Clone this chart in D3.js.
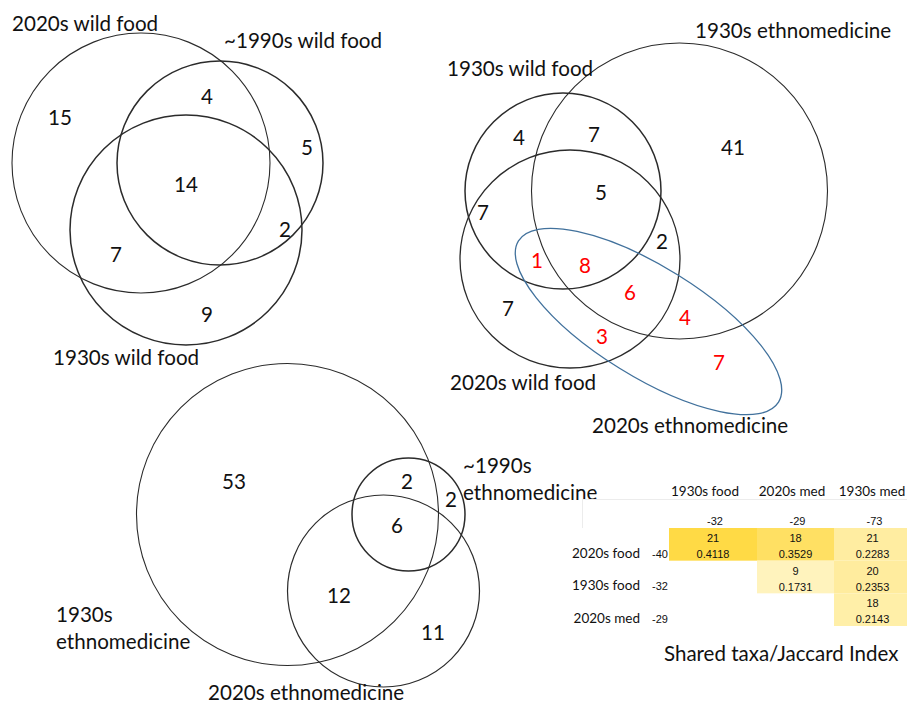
<!DOCTYPE html>
<html>
<head>
<meta charset="utf-8">
<script src="https://cdn.jsdelivr.net/npm/d3@7"></script>
<style>
  html, body { margin: 0; padding: 0; background: #fff; }
  svg { display: block; }
  text { font-family: Lato, "Noto Sans", sans-serif; fill: #111; }
  .cellnum { font-family: "Liberation Sans", Arial, sans-serif; font-size: 11px; }
</style>
</head>
<body>
<script>
// ---- data ----
const foodSets = ["2020s wild food", "~1990s wild food", "1930s wild food"];
const foodCounts = [15, 4, 5, 14, 2, 7, 9];

const comboSets = ["1930s ethnomedicine", "1930s wild food", "2020s wild food", "2020s ethnomedicine"];
const comboCounts = [4, 7, 41, 5, 7, 2, 1, 8, 6, 4, 3, 7, 7];
// true where the region lies inside the 2020s ethnomedicine set
const comboInMed2020 = [false, false, false, false, false, false, true, true, true, true, true, true, false];

const medSets = ["1930s ethnomedicine", "~1990s ethnomedicine", "2020s ethnomedicine"];
const medCounts = [53, 2, 2, 6, 12, 11];

const tableCols = ["1930s food", "2020s med", "1930s med"];
const tableRows = ["2020s food", "1930s food", "2020s med"];
const colTotals = [-32, -29, -73];
const rowTotals = [-40, -32, -29];
const sharedTaxa = [[21, 18, 21], [null, 9, 20], [null, null, 18]];
const jaccard = [[0.4118, 0.3529, 0.2283], [null, 0.1731, 0.2353], [null, null, 0.2143]];
const tableTitle = "Shared taxa/Jaccard Index";

// ---- layout ----
const W = 907, H = 704;
const svg = d3.select("body").append("svg").attr("width", W).attr("height", H);
svg.append("rect").attr("width", W).attr("height", H).attr("fill", "#fff");

const foodShapes = [
  {cx: 141, cy: 163, rx: 129, ry: 130, w: 1.1},
  {cx: 220, cy: 163, rx: 103, ry: 102, w: 1.5},
  {cx: 186, cy: 230, rx: 116, ry: 115, w: 1.5}
];
const foodNamePos = [{x: 12, y: 31}, {x: 224, y: 48}, {x: 53, y: 365}];
const foodCountPos = [[60, 118], [207, 97], [307, 148], [186, 185], [285, 230], [116, 255], [207, 315]];

const comboShapes = [
  {cx: 679.5, cy: 191, rx: 148, ry: 148, w: 1.1},
  {cx: 563, cy: 191, rx: 98, ry: 98, w: 1.5},
  {cx: 570, cy: 259, rx: 110, ry: 109, w: 1.3},
  {cx: 648.5, cy: 321.5, rx: 153, ry: 55, rot: 31.8, w: 1.3, color: "#41719c"}
];
const comboNamePos = [{x: 695, y: 38}, {x: 447, y: 76}, {x: 450, y: 390}, {x: 592, y: 433}];
const comboCountPos = [[519, 138], [594, 135], [733, 148], [601, 193], [483, 213], [662, 242],
  [537, 261], [585, 266], [630, 293], [685, 318], [602, 337], [719, 363], [508, 309]];

const medShapes = [
  {cx: 287.5, cy: 514.5, rx: 151, ry: 151, w: 1.1},
  {cx: 408.5, cy: 514.5, rx: 56.5, ry: 56.5, w: 1.5},
  {cx: 383.5, cy: 591, rx: 96, ry: 96, w: 1.2}
];
const medNamePos = [{x: 56, y: 622, wrap: true}, {x: 463, y: 473, wrap: true}, {x: 208, y: 700}];
const medCountPos = [[234, 482], [407, 482], [451, 500], [397, 526], [339, 596], [433, 633]];

function drawVenn(shapes, names, namePos, counts, countPos, countColor) {
  const g = svg.append("g");
  g.selectAll("ellipse").data(shapes).join("ellipse")
    .attr("cx", d => d.cx).attr("cy", d => d.cy)
    .attr("rx", d => d.rx).attr("ry", d => d.ry)
    .attr("transform", d => d.rot ? `rotate(${d.rot},${d.cx},${d.cy})` : null)
    .attr("fill", "none")
    .attr("stroke", d => d.color || "#2b2b2b")
    .attr("stroke-width", d => d.w);

  const labels = g.selectAll("text.set").data(names).join("text")
    .attr("class", "set")
    .attr("x", (d, i) => namePos[i].x)
    .attr("y", (d, i) => namePos[i].y)
    .style("font-size", "20.6px");
  labels.each(function(d, i) {
    const t = d3.select(this);
    if (namePos[i].wrap) {
      const k = d.indexOf(" ");
      t.append("tspan").text(d.slice(0, k));
      t.append("tspan").attr("x", namePos[i].x).attr("dy", 27).text(d.slice(k + 1));
    } else {
      t.text(d);
    }
  });

  g.selectAll("text.count").data(counts).join("text")
    .attr("class", "count")
    .attr("x", (d, i) => countPos[i][0])
    .attr("y", (d, i) => countPos[i][1])
    .attr("dy", "0.36em")
    .attr("text-anchor", "middle")
    .style("font-size", "20.6px")
    .style("fill", (d, i) => countColor(i))
    .text(d => d);
}

drawVenn(foodShapes, foodSets, foodNamePos, foodCounts, foodCountPos, () => "#111");
drawVenn(comboShapes, comboSets, comboNamePos, comboCounts, comboCountPos,
  i => comboInMed2020[i] ? "#ff0000" : "#111");
drawVenn(medShapes, medSets, medNamePos, medCounts, medCountPos, () => "#111");

// ---- table ----
const colEdges = [669, 757, 834, 911];
const headerX = [705, 792, 872];
const x = d3.scaleOrdinal().domain(tableCols).range(colEdges.slice(0, 3));
const xw = c => colEdges[tableCols.indexOf(c) + 1] - x(c);
const y = d3.scaleBand().domain(tableRows).range([528, 626]);

const cells = [];
tableRows.forEach((r, i) => tableCols.forEach((c, j) => {
  if (jaccard[i][j] != null) cells.push({r, c, n: sharedTaxa[i][j], j: jaccard[i][j]});
}));
const color = d3.scaleLinear()
  .domain(d3.extent(cells, d => d.j))
  .range(["#fff3bd", "#ffda45"]);

const tg = svg.append("g");
tg.append("line").attr("x1", 582).attr("x2", W).attr("y1", 499.5).attr("y2", 499.5)
  .attr("stroke", "#ececec");
tg.append("line").attr("x1", 582.5).attr("x2", 582.5).attr("y1", 499).attr("y2", 528)
  .attr("stroke", "#ececec");

tg.selectAll("rect.cell").data(cells).join("rect")
  .attr("class", "cell")
  .attr("x", d => x(d.c)).attr("y", d => y(d.r))
  .attr("width", d => xw(d.c)).attr("height", y.bandwidth())
  .attr("fill", d => color(d.j));

tg.selectAll("text.n").data(cells).join("text")
  .attr("class", "cellnum n")
  .attr("x", d => x(d.c) + xw(d.c) / 2).attr("y", d => y(d.r) + 14)
  .attr("text-anchor", "middle").text(d => d.n);
tg.selectAll("text.j").data(cells).join("text")
  .attr("class", "cellnum j")
  .attr("x", d => x(d.c) + xw(d.c) / 2).attr("y", d => y(d.r) + 30)
  .attr("text-anchor", "middle").text(d => d.j.toFixed(4));

tg.selectAll("text.colhead").data(tableCols).join("text")
  .attr("x", (d, i) => headerX[i]).attr("y", 496)
  .attr("text-anchor", "middle").style("font-size", "13.5px").text(d => d);
tg.selectAll("text.coltot").data(colTotals).join("text")
  .attr("class", "cellnum")
  .attr("x", (d, i) => x(tableCols[i]) + xw(tableCols[i]) / 2 + 2).attr("y", 525)
  .attr("text-anchor", "middle").text(d => d);
tg.selectAll("text.rowhead").data(tableRows).join("text")
  .attr("x", 640).attr("y", d => y(d) + y.bandwidth() - 3)
  .attr("text-anchor", "end").style("font-size", "13.5px").text(d => d);
tg.selectAll("text.rowtot").data(rowTotals).join("text")
  .attr("class", "cellnum")
  .attr("x", 668).attr("y", (d, i) => y(tableRows[i]) + y.bandwidth() - 3)
  .attr("text-anchor", "end").text(d => d);

tg.append("text").attr("x", 664).attr("y", 661)
  .style("font-size", "20.5px").text(tableTitle);
</script>
</body>
</html>
